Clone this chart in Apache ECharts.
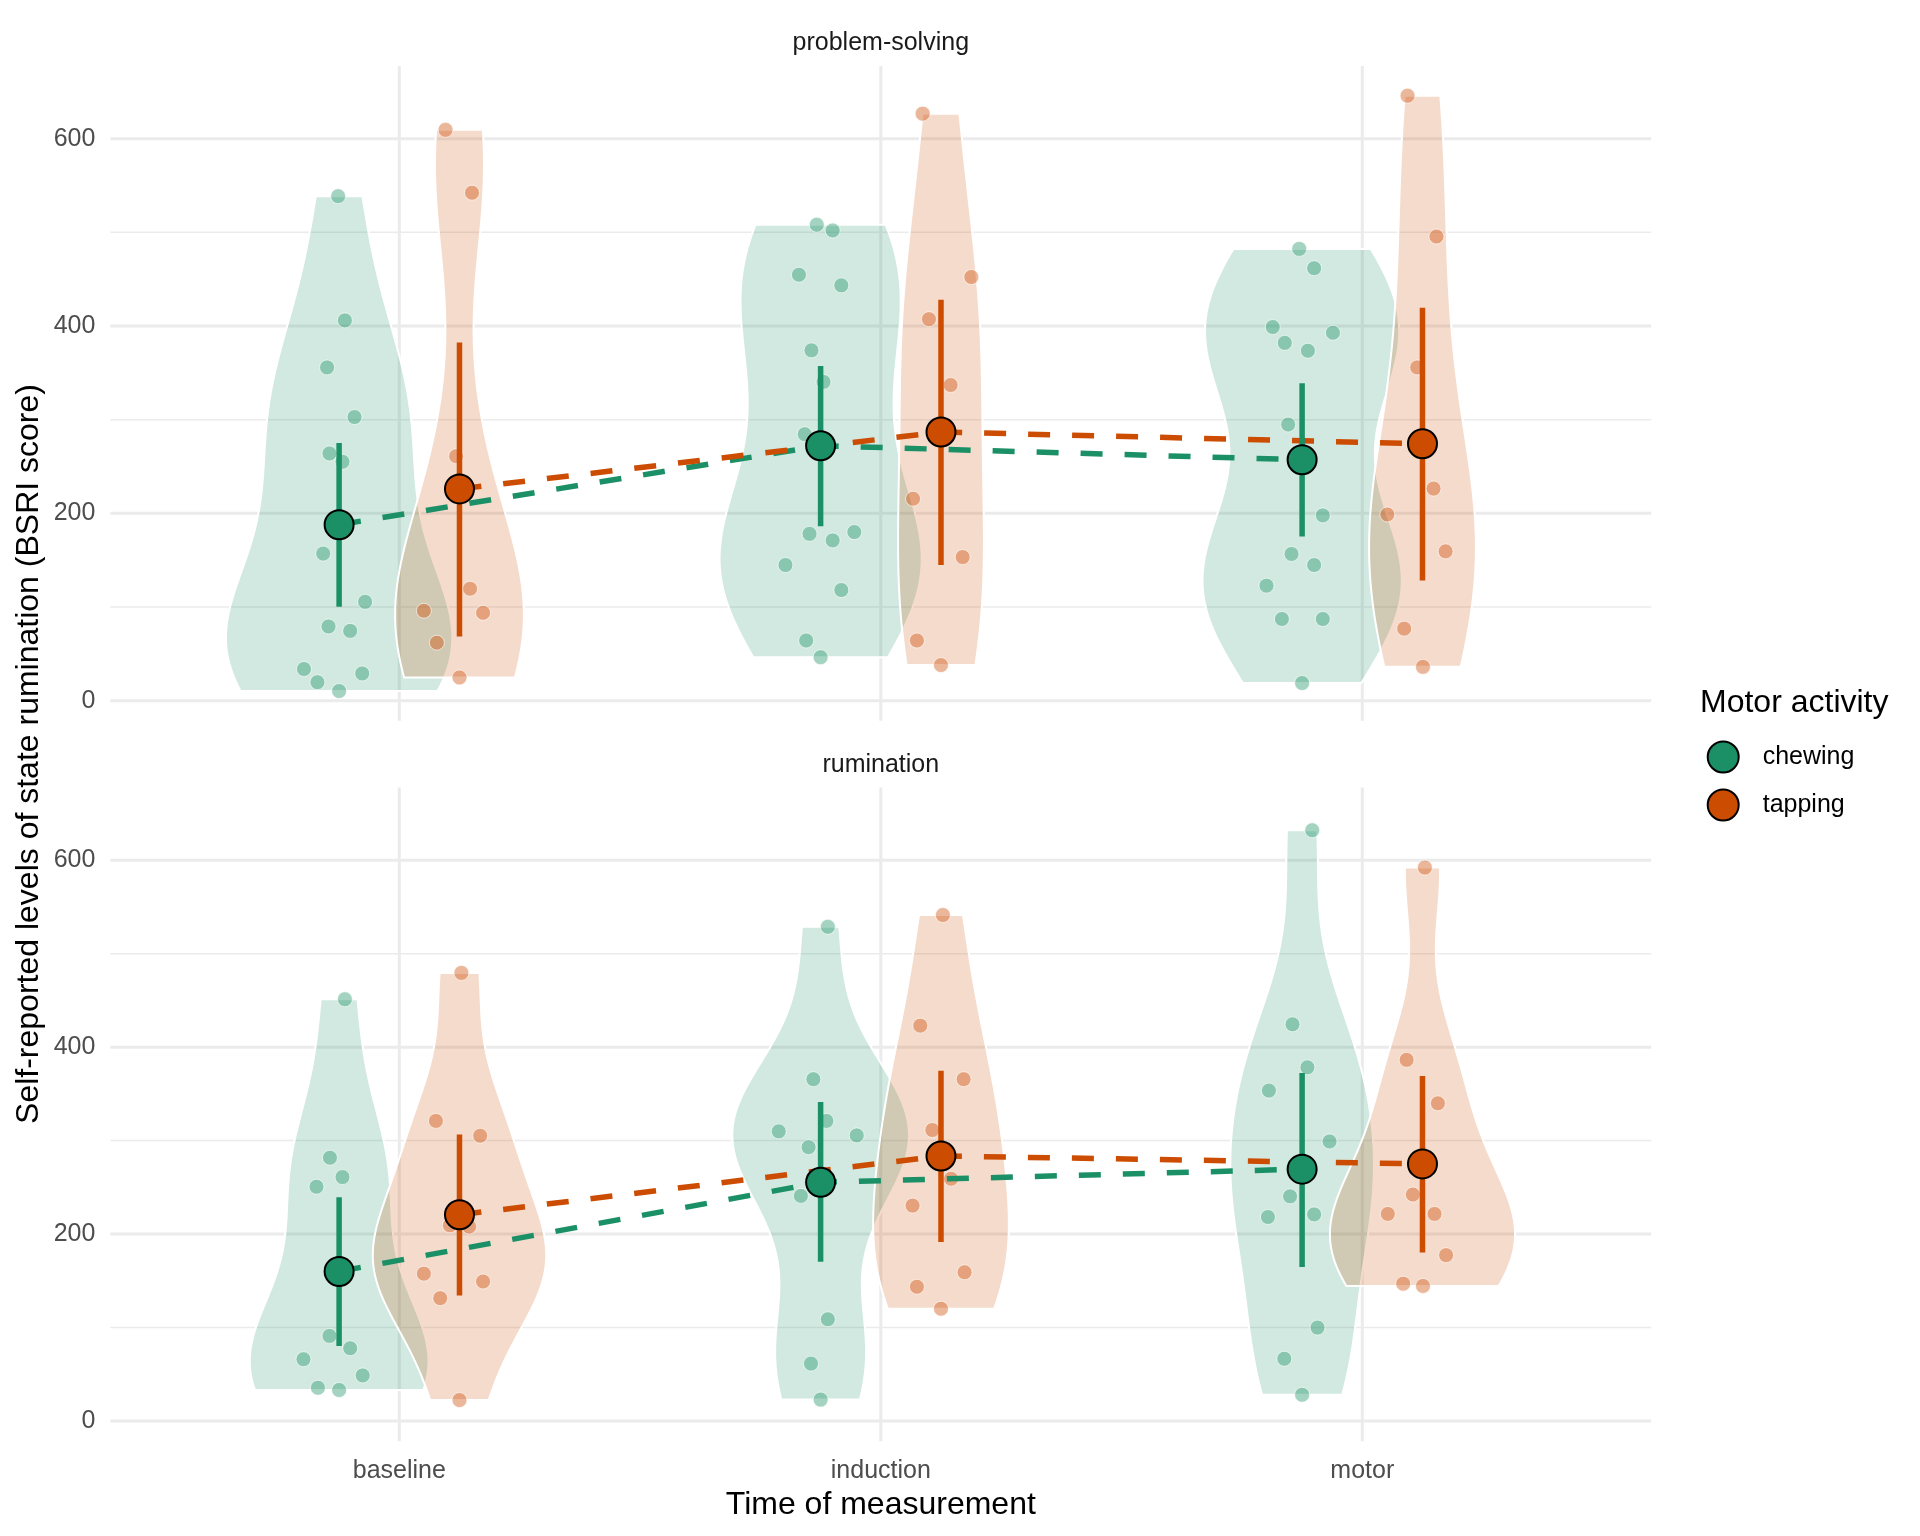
<!DOCTYPE html>
<html><head><meta charset="utf-8">
<script src="https://cdn.jsdelivr.net/npm/echarts@6/dist/echarts.min.js"></script>
<style>html,body{margin:0;padding:0;background:#fff}#c{width:1920px;height:1536px}</style>
</head><body><div id="c"></div>
<script>
// ---------------- DATA ----------------
const categories = ['baseline', 'induction', 'motor'];
const groups = ['chewing', 'tapping'];
const panelTitles = ['problem-solving', 'rumination'];
const yTickLabels = [0, 200, 400, 600];
const yMinorTicks = [100, 300, 500];

// raw points: [horizontal jitter position relative to category centre, BSRI score]
const ps_chewing_baseline = [[-0.127,538.6],[-0.113,406],[-0.150,355.8],[-0.093,302.8],[-0.145,263.9],[-0.118,255],[-0.158,157],[-0.071,105.5],[-0.147,79.2],[-0.102,74.5],[-0.198,33.8],[-0.077,29],[-0.170,19.7],[-0.125,10.3]];
const ps_tapping_baseline = [[0.096,609.4],[0.151,542.3],[0.118,261],[0.147,119.5],[0.051,96],[0.174,93.8],[0.078,61.9],[0.125,24.8]];
const ps_chewing_induction = [[-0.133,508.1],[-0.100,502],[-0.170,454.7],[-0.082,443.4],[-0.144,374],[-0.119,340.3],[-0.158,284.5],[-0.148,178.1],[-0.100,171.1],[-0.055,180],[-0.198,144.8],[-0.082,118.1],[-0.155,64.2],[-0.125,46.4]];
const ps_tapping_induction = [[0.087,626.7],[0.188,452.3],[0.100,407.3],[0.145,337],[0.067,215.6],[0.170,153.3],[0.075,64.2],[0.125,38]];
const ps_chewing_motor = [[-0.131,482.3],[-0.100,461.7],[-0.186,398.9],[-0.061,392.8],[-0.161,382],[-0.113,373.6],[-0.154,294.8],[-0.082,197.8],[-0.147,156.6],[-0.100,144.8],[-0.199,122.8],[-0.167,87.2],[-0.082,87.2],[-0.125,18.8]];
const ps_tapping_motor = [[0.094,645.9],[0.154,495.5],[0.114,355.8],[0.148,226.4],[0.052,198.8],[0.173,159.4],[0.087,76.9],[0.126,36.1]];

const rum_chewing_baseline = [[-0.113,451.2],[-0.144,281.7],[-0.118,261],[-0.172,250.7],[-0.145,91.1],[-0.102,77.9],[-0.199,66.2],[-0.076,48.8],[-0.169,35.7],[-0.125,33.3]];
const rum_tapping_baseline = [[0.129,479.4],[0.076,321.1],[0.168,305.2],[0.105,209.4],[0.145,208],[0.051,157.7],[0.174,149.3],[0.085,131.5],[0.125,22.5]];
const rum_chewing_induction = [[-0.110,528.7],[-0.140,365.7],[-0.113,321.1],[-0.212,309.9],[-0.050,305.6],[-0.150,293],[-0.166,240.9],[-0.110,108.9],[-0.145,61.5],[-0.125,23]];
const rum_tapping_induction = [[0.129,541.3],[0.082,423],[0.172,365.7],[0.107,311.3],[0.146,259.2],[0.066,230.5],[0.174,159.2],[0.075,143.7],[0.125,120.2]];
const rum_chewing_motor = [[-0.104,632],[-0.145,424.4],[-0.114,378.4],[-0.194,353.5],[-0.068,299.1],[-0.150,240.4],[-0.196,218.3],[-0.100,221.1],[-0.093,100],[-0.162,66.7],[-0.125,28.2]];
const rum_tapping_motor = [[0.130,592],[0.092,386.4],[0.157,339.9],[0.105,242.3],[0.053,221.6],[0.150,221.6],[0.174,177.5],[0.085,147],[0.126,144.6]];

// group means and interval ends (baseline, induction, motor)
const ps_chewing_mean = [187.9, 272.1, 257.2];
const ps_chewing_lo = [100.3, 186.1, 175.3];
const ps_chewing_hi = [275.0, 357.2, 338.9];
const ps_tapping_mean = [226.1, 286.8, 274.3];
const ps_tapping_lo = [68.4, 144.8, 128.4];
const ps_tapping_hi = [382.5, 428.0, 419.5];

const rum_chewing_mean = [160.1, 255.4, 269.5];
const rum_chewing_lo = [80.3, 170.4, 164.8];
const rum_chewing_hi = [239.4, 341.3, 372.3];
const rum_tapping_mean = [220.7, 283.6, 275.1];
const rum_tapping_lo = [134.3, 191.6, 180.3];
const rum_tapping_hi = [306.6, 374.7, 369.0];

// ---------------- STYLE ----------------
const COL = { chewing: [27,144,102], tapping: [204,76,2] };
const rgba = (c, a) => `rgba(${c[0]},${c[1]},${c[2]},${a})`;
const DODGE = { chewing: -0.125, tapping: 0.125 };
const VIOLIN_WIDTH = 0.47;
const YMIN = -21.5, YMAX = 677.7, XMIN = 0.4, XMAX = 3.6;
const FONT = 'Liberation Sans, Arial, Helvetica, sans-serif';

const panels = [
  { pts: { chewing: [ps_chewing_baseline, ps_chewing_induction, ps_chewing_motor],
           tapping: [ps_tapping_baseline, ps_tapping_induction, ps_tapping_motor] },
    mean: { chewing: ps_chewing_mean, tapping: ps_tapping_mean },
    lo: { chewing: ps_chewing_lo, tapping: ps_tapping_lo },
    hi: { chewing: ps_chewing_hi, tapping: ps_tapping_hi } },
  { pts: { chewing: [rum_chewing_baseline, rum_chewing_induction, rum_chewing_motor],
           tapping: [rum_tapping_baseline, rum_tapping_induction, rum_tapping_motor] },
    mean: { chewing: rum_chewing_mean, tapping: rum_tapping_mean },
    lo: { chewing: rum_chewing_lo, tapping: rum_tapping_lo },
    hi: { chewing: rum_chewing_hi, tapping: rum_tapping_hi } }
];

// kernel density (gaussian, nrd0 bandwidth, trimmed to data range) – as geom_violin does
function q7(s, p) { const h = (s.length - 1) * p, l = Math.floor(h); return s[l] + (h - l) * (s[Math.min(l + 1, s.length - 1)] - s[l]); }
function kde(vals) {
  const n = vals.length, m = vals.reduce((a, b) => a + b, 0) / n;
  const sd = Math.sqrt(vals.reduce((a, b) => a + (b - m) * (b - m), 0) / (n - 1));
  const s = [...vals].sort((a, b) => a - b);
  let lo = Math.min(sd, (q7(s, 0.75) - q7(s, 0.25)) / 1.34); if (!(lo > 0)) lo = sd || 1;
  const bw = 0.9 * lo * Math.pow(n, -0.2);
  const out = [], N = 256;
  for (let i = 0; i < N; i++) {
    const y = s[0] + (s[n - 1] - s[0]) * i / (N - 1);
    let d = 0; for (const v of vals) { const z = (y - v) / bw; d += Math.exp(-0.5 * z * z); }
    out.push([y, d / (n * bw * Math.sqrt(2 * Math.PI))]);
  }
  return out;
}

const grids = [
  { left: 110.4, top: 65.9, width: 1540.8, height: 654.9 },
  { left: 110.4, top: 787.5, width: 1540.8, height: 653.7 }
];

const series = [];
const xAxes = [], yAxes = [];

panels.forEach((P, pi) => {
  xAxes.push({
    gridIndex: pi, type: 'value', min: XMIN, max: XMAX,
    axisLine: { show: false }, axisTick: { show: false }, splitLine: { show: false },
    axisLabel: pi === 1 ? { show: true, customValues: [1, 2, 3], formatter: v => categories[Math.round(v) - 1] || '',
      fontSize: 25, color: '#4D4D4D', fontFamily: FONT, margin: 17 } : { show: false },
    name: pi === 1 ? 'Time of measurement' : '', nameLocation: 'middle', nameGap: 48,
    nameTextStyle: { fontSize: 32, color: '#000', fontFamily: FONT }
  });
  yAxes.push({
    gridIndex: pi, type: 'value', min: YMIN, max: YMAX,
    axisLine: { show: false }, axisTick: { show: false }, splitLine: { show: false },
    axisLabel: { customValues: yTickLabels, fontSize: 25, color: '#4D4D4D', fontFamily: FONT, margin: 15 }
  });

  // grid lines
  const hData = yTickLabels.map(v => [2, v, 3]).concat(yMinorTicks.map(v => [2, v, 1.5]));
  series.push({
    type: 'custom', xAxisIndex: pi, yAxisIndex: pi, silent: true, z: 0, data: hData,
    renderItem: (params, api) => {
      const y = api.value(1), w = api.value(2);
      const a = api.coord([XMIN, y]), b = api.coord([XMAX, y]);
      return { type: 'line', shape: { x1: a[0], y1: a[1], x2: b[0], y2: b[1] }, style: { stroke: '#EBEBEB', lineWidth: w } };
    }
  });
  series.push({
    type: 'custom', xAxisIndex: pi, yAxisIndex: pi, silent: true, z: 0, data: [1, 2, 3].map(v => [v, 300, 3]),
    renderItem: (params, api) => {
      const x = api.value(0), w = api.value(2);
      const a = api.coord([x, YMIN]), b = api.coord([x, YMAX]);
      return { type: 'line', shape: { x1: a[0], y1: a[1], x2: b[0], y2: b[1] }, style: { stroke: '#EBEBEB', lineWidth: w } };
    }
  });

  // violins (width scaled by density and by group size, like scale = "count")
  const violins = [];
  categories.forEach((c, ci) => groups.forEach(g => {
    const vals = P.pts[g][ci].map(p => p[1]);
    violins.push({ x: ci + 1 + DODGE[g], g, n: vals.length, dens: kde(vals) });
  }));
  const maxD = Math.max(...violins.map(v => Math.max(...v.dens.map(d => d[1]))));
  const maxN = Math.max(...violins.map(v => v.n));
  violins.forEach(v => { v.prof = v.dens.map(([y, d]) => [y, d / maxD * v.n / maxN * VIOLIN_WIDTH / 2]); });
  series.push({
    type: 'custom', xAxisIndex: pi, yAxisIndex: pi, silent: true, z: 1,
    data: violins.map(v => [v.x, v.prof[0][0], v.prof[v.prof.length - 1][0]]),
    renderItem: (params, api) => {
      const v = violins[params.dataIndex];
      const pts = [];
      v.prof.forEach(([y, hw]) => pts.push(api.coord([v.x - hw, y])));
      for (let i = v.prof.length - 1; i >= 0; i--) { const [y, hw] = v.prof[i]; pts.push(api.coord([v.x + hw, y])); }
      return { type: 'polygon', shape: { points: pts }, style: { fill: rgba(COL[v.g], 0.2), stroke: '#ffffff', lineWidth: 2 } };
    }
  });

  groups.forEach(g => {
    // jittered raw points
    const data = [];
    P.pts[g].forEach((arr, ci) => arr.forEach(p => data.push([ci + 1 + p[0], p[1]])));
    series.push({
      type: 'scatter', xAxisIndex: pi, yAxisIndex: pi, silent: true, z: 2, symbolSize: 15, data,
      itemStyle: { color: rgba(COL[g], 0.5), borderColor: 'rgba(255,255,255,0.8)', borderWidth: 1 }
    });
    // dashed connecting line
    series.push({
      type: 'line', xAxisIndex: pi, yAxisIndex: pi, silent: true, z: 3, symbol: 'none',
      data: P.mean[g].map((m, ci) => [ci + 1 + DODGE[g], m]),
      lineStyle: { color: rgba(COL[g], 1), width: 5.5, type: [22, 22], cap: 'butt' }
    });
    // interval bars
    series.push({
      type: 'custom', xAxisIndex: pi, yAxisIndex: pi, silent: true, z: 4,
      data: P.mean[g].map((m, ci) => [ci + 1 + DODGE[g], P.lo[g][ci], P.hi[g][ci]]),
      renderItem: (params, api) => {
        const a = api.coord([api.value(0), api.value(1)]), b = api.coord([api.value(0), api.value(2)]);
        return { type: 'line', shape: { x1: a[0], y1: a[1], x2: b[0], y2: b[1] }, style: { stroke: rgba(COL[g], 1), lineWidth: 5.5 } };
      }
    });
    // means
    series.push({
      name: g, type: 'scatter', xAxisIndex: pi, yAxisIndex: pi, z: 5, symbol: 'circle', symbolSize: 29,
      data: P.mean[g].map((m, ci) => [ci + 1 + DODGE[g], m]),
      itemStyle: { color: rgba(COL[g], 1), borderColor: '#000', borderWidth: 2, opacity: 1 }
    });
  });
});

const chart = echarts.init(document.getElementById('c'), null, { renderer: 'canvas' });
chart.setOption({
  animation: false,
  backgroundColor: '#ffffff',
  grid: grids,
  xAxis: xAxes,
  yAxis: yAxes,
  series,
  legend: {
    orient: 'vertical', left: 1706.7, top: 740.5, padding: 0, itemWidth: 31, itemHeight: 31, itemGap: 15,
    selectedMode: false,
    data: [{ name: 'chewing', icon: 'circle' }, { name: 'tapping', icon: 'circle' }],
    textStyle: { fontSize: 25, color: '#000', fontFamily: FONT, padding: [0, 0, 0, 19] }
  },
  graphic: [
    { type: 'text', x: 880.8, y: 43.5, silent: true, style: { text: panelTitles[0], fontSize: 25, fontFamily: FONT, fill: '#1A1A1A', align: 'center', verticalAlign: 'middle' } },
    { type: 'text', x: 880.8, y: 765, silent: true, style: { text: panelTitles[1], fontSize: 25, fontFamily: FONT, fill: '#1A1A1A', align: 'center', verticalAlign: 'middle' } },
    { type: 'text', x: 29.5, y: 754, rotation: Math.PI / 2, silent: true, style: { text: 'Self-reported levels of state rumination (BSRI score)', fontSize: 32, fontFamily: FONT, fill: '#000', align: 'center', verticalAlign: 'middle' } },
    { type: 'text', x: 1700, y: 703, silent: true, style: { text: 'Motor activity', fontSize: 32, fontFamily: FONT, fill: '#000', align: 'left', verticalAlign: 'middle' } }
  ]
});
</script>
</body></html>
